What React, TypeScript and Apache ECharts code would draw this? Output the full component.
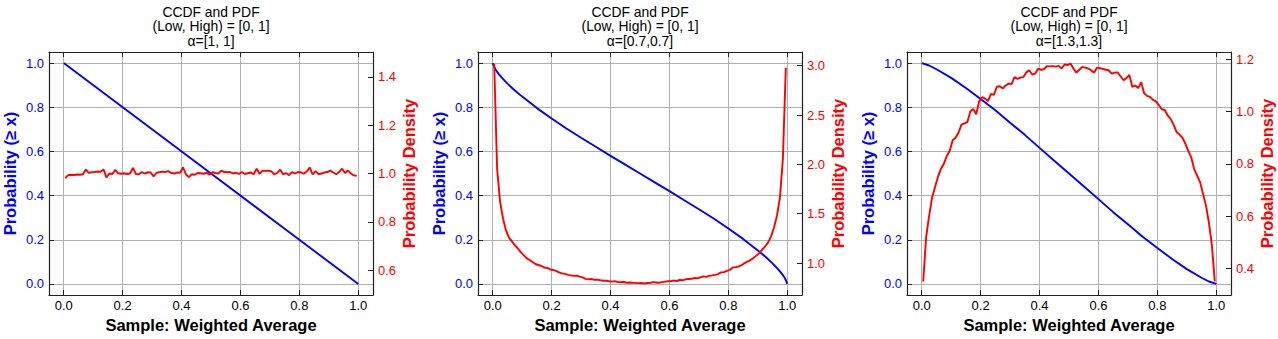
import React, { useEffect, useRef } from "react";
import * as echarts from "echarts";

// ---------- data ----------
const binCenters = [
  0.005, 0.015, 0.025, 0.035, 0.045, 0.055, 0.065, 0.075, 0.085, 0.095,
  0.105, 0.115, 0.125, 0.135, 0.145, 0.155, 0.165, 0.175, 0.185, 0.195,
  0.205, 0.215, 0.225, 0.235, 0.245, 0.255, 0.265, 0.275, 0.285, 0.295,
  0.305, 0.315, 0.325, 0.335, 0.345, 0.355, 0.365, 0.375, 0.385, 0.395,
  0.405, 0.415, 0.425, 0.435, 0.445, 0.455, 0.465, 0.475, 0.485, 0.495,
  0.505, 0.515, 0.525, 0.535, 0.545, 0.555, 0.565, 0.575, 0.585, 0.595,
  0.605, 0.615, 0.625, 0.635, 0.645, 0.655, 0.665, 0.675, 0.685, 0.695,
  0.705, 0.715, 0.725, 0.735, 0.745, 0.755, 0.765, 0.775, 0.785, 0.795,
  0.805, 0.815, 0.825, 0.835, 0.845, 0.855, 0.865, 0.875, 0.885, 0.895,
  0.905, 0.915, 0.925, 0.935, 0.945, 0.955, 0.965, 0.975, 0.985, 0.995,
];

const pdfAlpha1 = [
  0.981, 0.993, 0.995, 0.994, 0.996, 0.995, 0.997, 1.016, 1.003, 1.005,
  1.006, 1.008, 1.007, 1.017, 0.984, 1.0, 0.998, 1.015, 1.001, 0.999,
  1.001, 0.998, 1.0, 1.023, 0.998, 0.997, 1.006, 1.0, 1.005, 1.004,
  0.988, 1.003, 1.005, 1.008, 1.006, 1.01, 1.002, 1.0, 1.004, 1.003,
  1.025, 0.996, 0.985, 0.997, 0.995, 1.002, 1.001, 0.999, 1.003, 0.995,
  1.005, 1.002, 1.0, 1.012, 1.006, 1.005, 1.006, 1.0, 1.004, 0.998,
  1.006, 0.998, 1.001, 1.004, 0.997, 1.02, 0.998, 1.012, 1.011, 1.012,
  1.009, 0.996, 1.003, 1.016, 0.996, 1.002, 0.993, 1.006, 1.0, 1.006,
  1.005, 0.999, 1.008, 1.025, 0.996, 1.01, 0.997, 1.0, 1.004, 1.006,
  1.012, 1.004, 0.997, 1.006, 1.02, 1.002, 1.012, 1.0, 0.992, 0.99,
];

const pdfAlpha07 = [
  3.02, 1.95, 1.62, 1.45, 1.33, 1.26, 1.22, 1.18, 1.15, 1.11,
  1.08, 1.05, 1.03, 1.01, 0.99, 0.98, 0.97, 0.955, 0.95, 0.935,
  0.93, 0.92, 0.905, 0.895, 0.89, 0.88, 0.875, 0.87, 0.872, 0.862,
  0.855, 0.84, 0.835, 0.838, 0.83, 0.832, 0.825, 0.82, 0.822, 0.815,
  0.812, 0.816, 0.807, 0.805, 0.808, 0.80, 0.803, 0.80, 0.799, 0.796,
  0.797, 0.794, 0.797, 0.80, 0.806, 0.803, 0.80, 0.807, 0.812, 0.815,
  0.818, 0.822, 0.818, 0.828, 0.825, 0.835, 0.838, 0.84, 0.848, 0.845,
  0.855, 0.865, 0.86, 0.87, 0.875, 0.88, 0.888, 0.905, 0.908, 0.92,
  0.93, 0.955, 0.958, 0.965, 0.978, 1.0, 1.015, 1.03, 1.05, 1.075,
  1.10, 1.135, 1.17, 1.21, 1.27, 1.36, 1.48, 1.66, 2.05, 2.98,
];

const pdfAlpha13 = [
  0.35, 0.52, 0.6, 0.67, 0.71, 0.75, 0.78, 0.8, 0.83, 0.85,
  0.89, 0.9, 0.92, 0.95, 0.955, 0.96, 1.0, 1.01, 0.99, 1.04,
  1.055, 1.05, 1.04, 1.068, 1.064, 1.095, 1.097, 1.088, 1.1, 1.107,
  1.105, 1.132, 1.125, 1.13, 1.132, 1.15, 1.158, 1.142, 1.145, 1.164,
  1.16, 1.162, 1.174, 1.173, 1.174, 1.172, 1.175, 1.165, 1.18, 1.178,
  1.184, 1.165, 1.149, 1.16, 1.171, 1.168, 1.165, 1.158, 1.149, 1.168,
  1.166, 1.163, 1.16, 1.158, 1.145, 1.149, 1.15, 1.135, 1.12, 1.128,
  1.14, 1.094, 1.1, 1.09, 1.113, 1.07, 1.06, 1.056, 1.045, 1.039,
  1.025, 1.009, 1.006, 0.985, 0.972, 0.95, 0.922, 0.912, 0.9, 0.877,
  0.85, 0.825, 0.78, 0.755, 0.73, 0.685, 0.64, 0.575, 0.49, 0.35,
];

const ccdfAlpha1X = [0, 0.25, 0.5, 0.75, 1];
const ccdfAlpha1Y = [1, 0.75, 0.5, 0.25, 0];

const ccdfAlpha07X = [
  0, 0.005, 0.01, 0.02, 0.03, 0.05, 0.075, 0.1, 0.15, 0.2, 0.25, 0.3, 0.35,
  0.4, 0.45, 0.5, 0.55, 0.6, 0.65, 0.7, 0.75, 0.8, 0.85, 0.9, 0.925, 0.95,
  0.97, 0.98, 0.99, 0.995, 1,
];
const ccdfAlpha07Y = [
  1, 0.982, 0.97, 0.951, 0.935, 0.907, 0.876, 0.848, 0.796, 0.749, 0.704,
  0.662, 0.621, 0.58, 0.54, 0.5, 0.46, 0.42, 0.379, 0.338, 0.296, 0.251,
  0.204, 0.152, 0.124, 0.093, 0.065, 0.049, 0.03, 0.018, 0,
];

const ccdfAlpha13X = [
  0, 0.025, 0.05, 0.1, 0.15, 0.2, 0.25, 0.3, 0.35, 0.4, 0.45, 0.5, 0.55, 0.6,
  0.65, 0.7, 0.75, 0.8, 0.85, 0.9, 0.95, 0.975, 1,
];
const ccdfAlpha13Y = [
  1, 0.989, 0.972, 0.933, 0.887, 0.837, 0.786, 0.73, 0.675, 0.616, 0.558, 0.5,
  0.442, 0.384, 0.325, 0.27, 0.214, 0.163, 0.113, 0.067, 0.028, 0.011, 0,
];

const titleLines = [
  ["CCDF and PDF", "(Low, High) = [0, 1]", "α=[1, 1]"],
  ["CCDF and PDF", "(Low, High) = [0, 1]", "α=[0.7,0.7]"],
  ["CCDF and PDF", "(Low, High) = [0, 1]", "α=[1.3,1.3]"],
];

const xAxisTitle = "Sample: Weighted Average";
const leftAxisTitle = "Probability (≥ x)";
const rightAxisTitle = "Probability Density";

// ---------- layout / style ----------
const FONT = "Liberation Sans, Arial, Helvetica, sans-serif";
const BLUE = "#0000ff";
const RED = "#ff0000";
const SPINE = "#222222";
const GRIDC = "#b0b0b0";

const panels = [
  { left: 49, ccdfX: ccdfAlpha1X, ccdfY: ccdfAlpha1Y, pdf: pdfAlpha1, rMin: 0.4975, rMax: 1.5025 },
  { left: 478, ccdfX: ccdfAlpha07X, ccdfY: ccdfAlpha07Y, pdf: pdfAlpha07, rMin: 0.676, rMax: 3.139 },
  { left: 907, ccdfX: ccdfAlpha13X, ccdfY: ccdfAlpha13Y, pdf: pdfAlpha13, rMin: 0.298, rMax: 1.228 },
];
const GW = 324;
const GT = 52;
const GH = 243;

const fmt1 = (v: number) => v.toFixed(1);

function buildOption() {
  const grid: any[] = [];
  const xAxis: any[] = [];
  const yAxis: any[] = [];
  const series: any[] = [];
  const graphic: any[] = [];

  const line = { show: true, onZero: false, lineStyle: { color: SPINE, width: 1.2 } };
  const tick = { show: true, inside: true, length: 5, lineStyle: { color: SPINE, width: 1 } };

  panels.forEach((p, g) => {
    grid.push({ left: p.left, top: GT, width: GW, height: GH });

    xAxis.push({
      type: "value",
      gridIndex: g,
      position: "bottom",
      min: -0.05,
      max: 1.05,
      splitNumber: 5,
      name: xAxisTitle,
      nameLocation: "middle",
      nameGap: 19,
      nameTextStyle: { fontSize: 16.5, fontWeight: "bold", color: "#000", fontFamily: FONT },
      axisLine: line,
      axisTick: tick,
      axisLabel: {
        margin: 4,
        color: "#000",
        fontSize: 13,
        fontFamily: FONT,
        showMinLabel: false,
        showMaxLabel: false,
        formatter: fmt1,
      },
      splitLine: { show: true, lineStyle: { color: GRIDC, width: 1 } },
    });
    xAxis.push({
      type: "value",
      gridIndex: g,
      position: "top",
      min: -0.05,
      max: 1.05,
      splitNumber: 5,
      axisLine: line,
      axisTick: tick,
      axisLabel: { show: false },
      splitLine: { show: false },
    });

    yAxis.push({
      type: "value",
      gridIndex: g,
      position: "left",
      min: -0.05,
      max: 1.05,
      splitNumber: 5,
      name: leftAxisTitle,
      nameLocation: "middle",
      nameGap: 31,
      nameTextStyle: { fontSize: 16.5, fontWeight: "bold", color: BLUE, fontFamily: FONT },
      axisLine: line,
      axisTick: tick,
      axisLabel: {
        margin: 5,
        color: BLUE,
        fontSize: 13,
        fontFamily: FONT,
        showMinLabel: false,
        showMaxLabel: false,
        formatter: fmt1,
      },
      splitLine: { show: true, lineStyle: { color: GRIDC, width: 1 } },
    });
    yAxis.push({
      type: "value",
      gridIndex: g,
      position: "right",
      min: p.rMin,
      max: p.rMax,
      splitNumber: 5,
      name: rightAxisTitle,
      nameLocation: "middle",
      nameGap: 27,
      nameTextStyle: { fontSize: 16.5, fontWeight: "bold", color: RED, fontFamily: FONT },
      axisLine: line,
      axisTick: tick,
      axisLabel: {
        margin: 5,
        color: RED,
        fontSize: 13,
        fontFamily: FONT,
        showMinLabel: false,
        showMaxLabel: false,
        formatter: fmt1,
      },
      splitLine: { show: false },
    });

    series.push({
      type: "line",
      xAxisIndex: 2 * g,
      yAxisIndex: 2 * g,
      data: p.ccdfX.map((x, i) => [x, p.ccdfY[i]]),
      showSymbol: false,
      symbol: "none",
      lineStyle: { color: BLUE, width: 1.9 },
      itemStyle: { color: BLUE },
      z: 3,
    });
    series.push({
      type: "line",
      xAxisIndex: 2 * g,
      yAxisIndex: 2 * g + 1,
      data: binCenters.map((x, i) => [x, p.pdf[i]]),
      showSymbol: false,
      symbol: "none",
      lineStyle: { color: RED, width: 1.9 },
      itemStyle: { color: RED },
      z: 4,
    });

    graphic.push({
      type: "text",
      x: p.left + GW / 2,
      y: 4.5,
      style: {
        text: titleLines[g].join("\n"),
        align: "center",
        verticalAlign: "top",
        fontSize: 13.9,
        lineHeight: 14.5,
        fontFamily: FONT,
        fill: "#000",
      },
    });
  });

  return { animation: false, backgroundColor: "#fff", grid, xAxis, yAxis, series, graphic };
}

export default function App() {
  const ref = useRef<HTMLDivElement>(null);
  useEffect(() => {
    document.body.style.margin = "0";
    if (!ref.current) return;
    const chart = echarts.init(ref.current, null, { renderer: "svg" });
    chart.setOption(buildOption());
    return () => chart.dispose();
  }, []);
  return <div ref={ref} style={{ width: 1278, height: 339 }} />;
}
